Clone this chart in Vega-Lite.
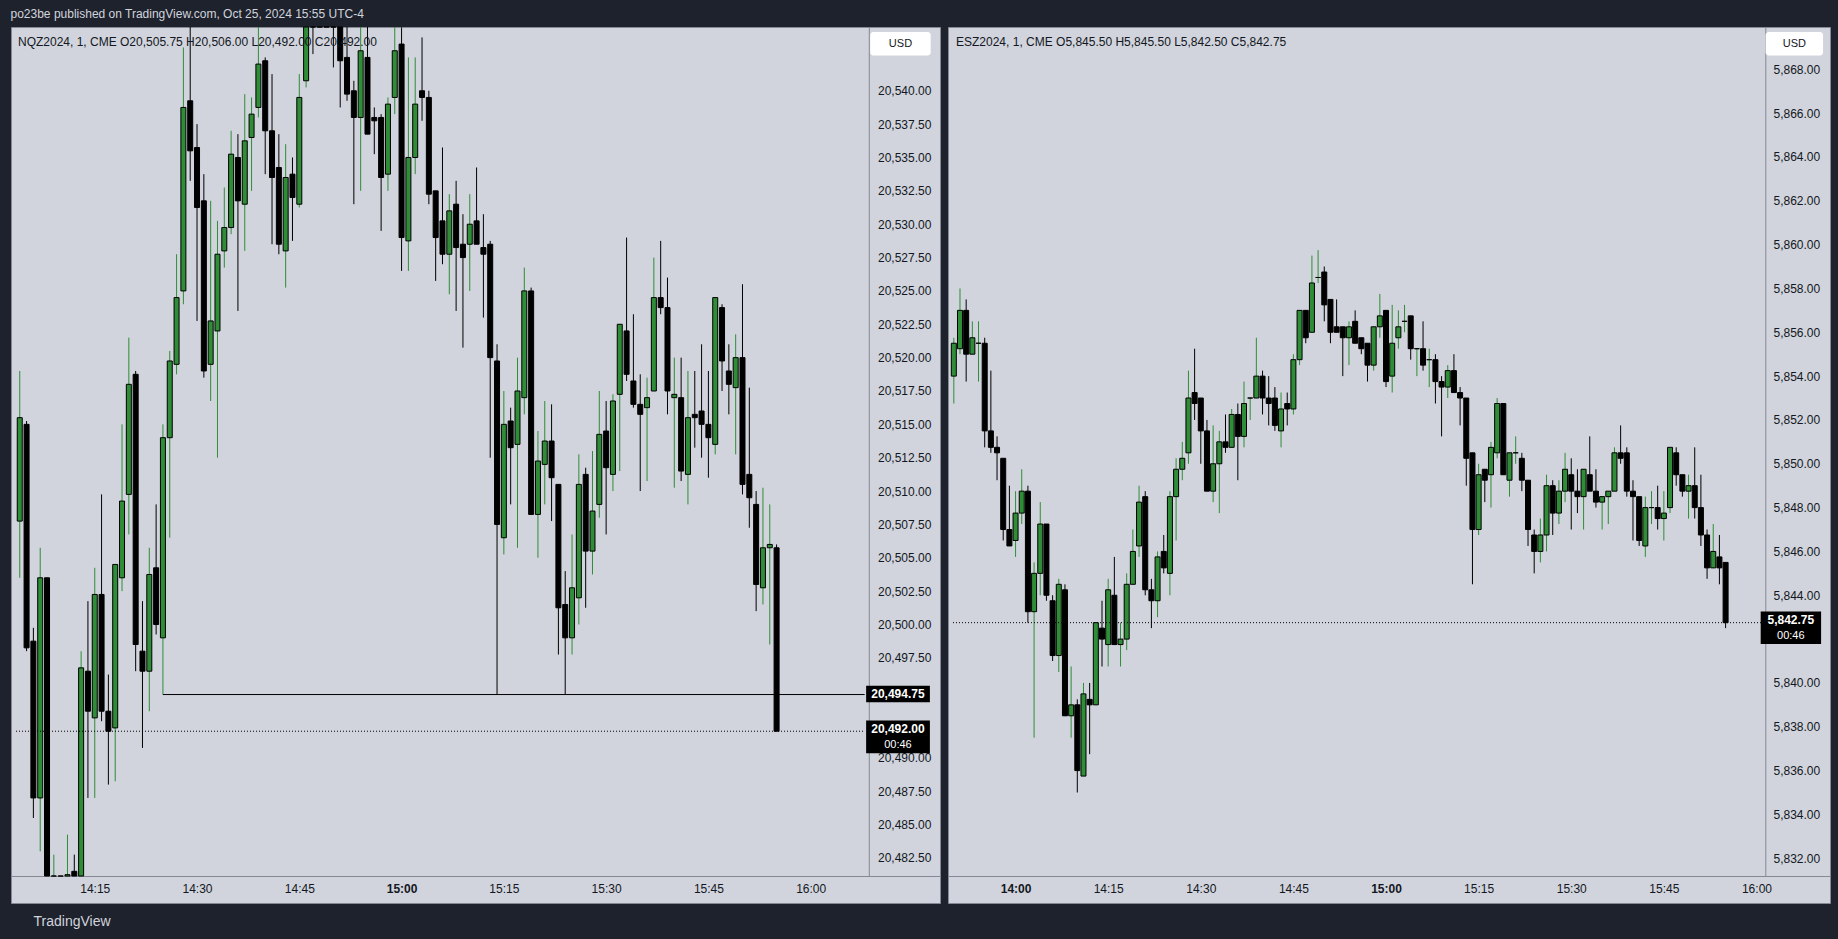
{
"$schema": "https://vega.github.io/schema/vega-lite/v6.json",
"background": "#1e222d",
"padding": {"left": 10, "top": 8, "right": 11, "bottom": 13},
"spacing": 6,
"title": {"text": "po23be published on TradingView.com, Oct 25, 2024 15:55 UTC-4", "anchor": "start", "frame": "bounds", "color": "#d1d4dc", "fontSize": 12, "fontWeight": "normal", "font": "Liberation Sans", "offset": 5},
"config": {
  "font": "Liberation Sans",
  "view": {"stroke": "#868993", "fill": "#d1d4dc"},
  "axis": {"labelFont": "Liberation Sans", "labelFontSize": 12, "labelColor": "#131722", "domainColor": "#868993", "ticks": false, "grid": false, "labelOverlap": false, "labelFlush": false, "labelBound": false}
},
"datasets": {
"nq": [
{"t":"2024-10-25T14:04","o":20507.75,"h":20519,"l":20503.5,"c":20515.5},
{"t":"2024-10-25T14:05","o":20515,"h":20515.25,"l":20498,"c":20498.25},
{"t":"2024-10-25T14:06","o":20498.75,"h":20499.75,"l":20485.5,"c":20487},
{"t":"2024-10-25T14:07","o":20487,"h":20505.75,"l":20483,"c":20503.5},
{"t":"2024-10-25T14:08","o":20503.5,"h":20503.5,"l":20477,"c":20479},
{"t":"2024-10-25T14:09","o":20477.5,"h":20482.75,"l":20475.5,"c":20480},
{"t":"2024-10-25T14:10","o":20480,"h":20480.5,"l":20476,"c":20477},
{"t":"2024-10-25T14:11","o":20480.75,"h":20484.25,"l":20478,"c":20481.25},
{"t":"2024-10-25T14:12","o":20481.5,"h":20482.75,"l":20477,"c":20478},
{"t":"2024-10-25T14:13","o":20478.5,"h":20498,"l":20477.5,"c":20496.75},
{"t":"2024-10-25T14:14","o":20496.5,"h":20501.75,"l":20487,"c":20493.5},
{"t":"2024-10-25T14:15","o":20493,"h":20504.25,"l":20487,"c":20502.25},
{"t":"2024-10-25T14:16","o":20502.25,"h":20509.75,"l":20492.75,"c":20493.5},
{"t":"2024-10-25T14:17","o":20493.5,"h":20496.25,"l":20488,"c":20492},
{"t":"2024-10-25T14:18","o":20492.25,"h":20504.5,"l":20488.25,"c":20504.5},
{"t":"2024-10-25T14:19","o":20503.5,"h":20515,"l":20502.5,"c":20509.25},
{"t":"2024-10-25T14:20","o":20509.75,"h":20521.5,"l":20506.75,"c":20518},
{"t":"2024-10-25T14:21","o":20518.75,"h":20519,"l":20496.5,"c":20498.5},
{"t":"2024-10-25T14:22","o":20498,"h":20501.75,"l":20490.75,"c":20496.5},
{"t":"2024-10-25T14:23","o":20496.5,"h":20505.75,"l":20493.5,"c":20503.75},
{"t":"2024-10-25T14:24","o":20504.25,"h":20509,"l":20499.25,"c":20500},
{"t":"2024-10-25T14:25","o":20499,"h":20515,"l":20494.75,"c":20514},
{"t":"2024-10-25T14:26","o":20514,"h":20520.5,"l":20506.5,"c":20519.75},
{"t":"2024-10-25T14:27","o":20519.5,"h":20527.75,"l":20518.75,"c":20524.5},
{"t":"2024-10-25T14:28","o":20525,"h":20543.25,"l":20524,"c":20538.75},
{"t":"2024-10-25T14:29","o":20539.25,"h":20545.75,"l":20533.25,"c":20535.5},
{"t":"2024-10-25T14:30","o":20535.75,"h":20537.5,"l":20522.75,"c":20531.25},
{"t":"2024-10-25T14:31","o":20531.75,"h":20533.75,"l":20518.5,"c":20519},
{"t":"2024-10-25T14:32","o":20519.5,"h":20531.75,"l":20516.75,"c":20522.75},
{"t":"2024-10-25T14:33","o":20522,"h":20530.25,"l":20512.5,"c":20527.75},
{"t":"2024-10-25T14:34","o":20528,"h":20532.75,"l":20526.75,"c":20529.75},
{"t":"2024-10-25T14:35","o":20529.75,"h":20537,"l":20529.25,"c":20535.25},
{"t":"2024-10-25T14:36","o":20535,"h":20536.75,"l":20523.5,"c":20531.75},
{"t":"2024-10-25T14:37","o":20531.5,"h":20539.75,"l":20528,"c":20536.25},
{"t":"2024-10-25T14:38","o":20536.5,"h":20539.5,"l":20532.5,"c":20538.25},
{"t":"2024-10-25T14:39","o":20538.75,"h":20545.5,"l":20538,"c":20542},
{"t":"2024-10-25T14:40","o":20542.25,"h":20542.5,"l":20533.75,"c":20537},
{"t":"2024-10-25T14:41","o":20537,"h":20541.25,"l":20528.5,"c":20533.5},
{"t":"2024-10-25T14:42","o":20534.25,"h":20536.75,"l":20527.75,"c":20528.5},
{"t":"2024-10-25T14:43","o":20528,"h":20536,"l":20525.25,"c":20533.5},
{"t":"2024-10-25T14:44","o":20533.75,"h":20535,"l":20528.75,"c":20532},
{"t":"2024-10-25T14:45","o":20531.5,"h":20541.25,"l":20531.25,"c":20539.5},
{"t":"2024-10-25T14:46","o":20540.75,"h":20548,"l":20540.25,"c":20546.5},
{"t":"2024-10-25T14:47","o":20548,"h":20549.5,"l":20542.75,"c":20545.5},
{"t":"2024-10-25T14:48","o":20545.5,"h":20549,"l":20544.75,"c":20548},
{"t":"2024-10-25T14:49","o":20548,"h":20549.5,"l":20545,"c":20546},
{"t":"2024-10-25T14:50","o":20546.25,"h":20547,"l":20541.75,"c":20545},
{"t":"2024-10-25T14:51","o":20545,"h":20546,"l":20538.75,"c":20542.25},
{"t":"2024-10-25T14:52","o":20542.5,"h":20545.25,"l":20539.25,"c":20539.75},
{"t":"2024-10-25T14:53","o":20540,"h":20540.75,"l":20531.5,"c":20538},
{"t":"2024-10-25T14:54","o":20538,"h":20545,"l":20532.5,"c":20543},
{"t":"2024-10-25T14:55","o":20542.5,"h":20545,"l":20536.75,"c":20536.75},
{"t":"2024-10-25T14:56","o":20538,"h":20538.75,"l":20535.25,"c":20537.75},
{"t":"2024-10-25T14:57","o":20538,"h":20538.25,"l":20529.5,"c":20533.5},
{"t":"2024-10-25T14:58","o":20533.75,"h":20539.5,"l":20532.5,"c":20539},
{"t":"2024-10-25T14:59","o":20539.5,"h":20545,"l":20538.25,"c":20543},
{"t":"2024-10-25T15:00","o":20543.5,"h":20544.75,"l":20526.5,"c":20529},
{"t":"2024-10-25T15:01","o":20528.75,"h":20542.5,"l":20526.5,"c":20535},
{"t":"2024-10-25T15:02","o":20535,"h":20542.5,"l":20533.75,"c":20539},
{"t":"2024-10-25T15:03","o":20540,"h":20544,"l":20537.75,"c":20539.5},
{"t":"2024-10-25T15:04","o":20539.5,"h":20540,"l":20531.5,"c":20532.25},
{"t":"2024-10-25T15:05","o":20532.5,"h":20532.5,"l":20525.75,"c":20529},
{"t":"2024-10-25T15:06","o":20530.25,"h":20535.75,"l":20527,"c":20527.75},
{"t":"2024-10-25T15:07","o":20527.75,"h":20532.25,"l":20524.75,"c":20531},
{"t":"2024-10-25T15:08","o":20531.5,"h":20533.25,"l":20523.5,"c":20528.25},
{"t":"2024-10-25T15:09","o":20528.5,"h":20530.75,"l":20520.75,"c":20527.5},
{"t":"2024-10-25T15:10","o":20528.5,"h":20532.25,"l":20525,"c":20530},
{"t":"2024-10-25T15:11","o":20530.25,"h":20534.25,"l":20528.5,"c":20528.5},
{"t":"2024-10-25T15:12","o":20528.25,"h":20530.75,"l":20523,"c":20527.75},
{"t":"2024-10-25T15:13","o":20528.5,"h":20528.75,"l":20512.5,"c":20520},
{"t":"2024-10-25T15:14","o":20519.75,"h":20521,"l":20494.75,"c":20507.5},
{"t":"2024-10-25T15:15","o":20506.5,"h":20517.5,"l":20505.25,"c":20515},
{"t":"2024-10-25T15:16","o":20515.25,"h":20516.25,"l":20509,"c":20513.25},
{"t":"2024-10-25T15:17","o":20513.5,"h":20520,"l":20505.75,"c":20517.5},
{"t":"2024-10-25T15:18","o":20517,"h":20526.75,"l":20515.75,"c":20525},
{"t":"2024-10-25T15:19","o":20525,"h":20525.25,"l":20508.25,"c":20508.25},
{"t":"2024-10-25T15:20","o":20508.25,"h":20514.5,"l":20505,"c":20512.25},
{"t":"2024-10-25T15:21","o":20512,"h":20516.75,"l":20509,"c":20513.75},
{"t":"2024-10-25T15:22","o":20513.75,"h":20516.5,"l":20507.75,"c":20511},
{"t":"2024-10-25T15:23","o":20510.5,"h":20510.5,"l":20497.75,"c":20501.25},
{"t":"2024-10-25T15:24","o":20501.5,"h":20504,"l":20494.75,"c":20499},
{"t":"2024-10-25T15:25","o":20499,"h":20506.75,"l":20497.75,"c":20502.75},
{"t":"2024-10-25T15:26","o":20502,"h":20512.75,"l":20500,"c":20510.5},
{"t":"2024-10-25T15:27","o":20511.25,"h":20511.75,"l":20501.25,"c":20505.5},
{"t":"2024-10-25T15:28","o":20505.5,"h":20513,"l":20503.75,"c":20508.5},
{"t":"2024-10-25T15:29","o":20509,"h":20517.5,"l":20508,"c":20514.25},
{"t":"2024-10-25T15:30","o":20514.5,"h":20516.75,"l":20506.75,"c":20511.75},
{"t":"2024-10-25T15:31","o":20511.25,"h":20517.25,"l":20510,"c":20516.75},
{"t":"2024-10-25T15:32","o":20517.25,"h":20522.5,"l":20511.5,"c":20522.5},
{"t":"2024-10-25T15:33","o":20522,"h":20529,"l":20518.25,"c":20518.75},
{"t":"2024-10-25T15:34","o":20518.25,"h":20523.25,"l":20516.25,"c":20516.5},
{"t":"2024-10-25T15:35","o":20516.5,"h":20518.75,"l":20510,"c":20515.75},
{"t":"2024-10-25T15:36","o":20516.25,"h":20518.5,"l":20510.75,"c":20517},
{"t":"2024-10-25T15:37","o":20517.5,"h":20527.5,"l":20517.5,"c":20524.5},
{"t":"2024-10-25T15:38","o":20524.5,"h":20528.75,"l":20523.25,"c":20523.75},
{"t":"2024-10-25T15:39","o":20523.75,"h":20526,"l":20515.75,"c":20517.5},
{"t":"2024-10-25T15:40","o":20517,"h":20520,"l":20510.25,"c":20517.25},
{"t":"2024-10-25T15:41","o":20517,"h":20520,"l":20510.75,"c":20511.5},
{"t":"2024-10-25T15:42","o":20511.25,"h":20519,"l":20509,"c":20515.5},
{"t":"2024-10-25T15:43","o":20515.75,"h":20519,"l":20513.25,"c":20515.5},
{"t":"2024-10-25T15:44","o":20516,"h":20521,"l":20512.5,"c":20515},
{"t":"2024-10-25T15:45","o":20515,"h":20519,"l":20511,"c":20514},
{"t":"2024-10-25T15:46","o":20513.5,"h":20524.5,"l":20512.75,"c":20524.5},
{"t":"2024-10-25T15:47","o":20523.75,"h":20524,"l":20517.5,"c":20519.75},
{"t":"2024-10-25T15:48","o":20519,"h":20521,"l":20515.75,"c":20518},
{"t":"2024-10-25T15:49","o":20517.75,"h":20521.75,"l":20512.75,"c":20520},
{"t":"2024-10-25T15:50","o":20520,"h":20525.5,"l":20509.75,"c":20510.5},
{"t":"2024-10-25T15:51","o":20511.25,"h":20517.75,"l":20507.25,"c":20509.5},
{"t":"2024-10-25T15:52","o":20509,"h":20510,"l":20501,"c":20503},
{"t":"2024-10-25T15:53","o":20502.75,"h":20510.25,"l":20501.5,"c":20505.75},
{"t":"2024-10-25T15:54","o":20505.75,"h":20509,"l":20498.5,"c":20506},
{"t":"2024-10-25T15:55","o":20505.75,"h":20506,"l":20492,"c":20492}
],
"es": [
{"t":"2024-10-25T13:50","o":5854,"h":5855.75,"l":5852.75,"c":5855.5},
{"t":"2024-10-25T13:51","o":5855.25,"h":5858,"l":5855,"c":5857},
{"t":"2024-10-25T13:52","o":5857,"h":5857.5,"l":5853.75,"c":5855},
{"t":"2024-10-25T13:53","o":5855,"h":5856.5,"l":5855,"c":5855.75},
{"t":"2024-10-25T13:54","o":5855.5,"h":5856.5,"l":5853.75,"c":5855.5},
{"t":"2024-10-25T13:55","o":5855.5,"h":5855.75,"l":5850.75,"c":5851.5},
{"t":"2024-10-25T13:56","o":5851.5,"h":5854.25,"l":5850.5,"c":5850.75},
{"t":"2024-10-25T13:57","o":5850.75,"h":5851.25,"l":5849.25,"c":5850.5},
{"t":"2024-10-25T13:58","o":5850.25,"h":5850.25,"l":5846.5,"c":5847},
{"t":"2024-10-25T13:59","o":5847,"h":5849,"l":5846.25,"c":5846.25},
{"t":"2024-10-25T14:00","o":5846.5,"h":5848.75,"l":5845.75,"c":5847.75},
{"t":"2024-10-25T14:01","o":5847.75,"h":5849.75,"l":5847.25,"c":5848.75},
{"t":"2024-10-25T14:02","o":5848.75,"h":5849,"l":5842.75,"c":5843.25},
{"t":"2024-10-25T14:03","o":5843.25,"h":5845.5,"l":5837.5,"c":5845},
{"t":"2024-10-25T14:04","o":5845,"h":5848.25,"l":5844,"c":5847.25},
{"t":"2024-10-25T14:05","o":5847.25,"h":5847.25,"l":5843.75,"c":5844},
{"t":"2024-10-25T14:06","o":5843.75,"h":5844,"l":5841,"c":5841.25},
{"t":"2024-10-25T14:07","o":5841.25,"h":5844.75,"l":5840.5,"c":5844.5},
{"t":"2024-10-25T14:08","o":5844.25,"h":5844.5,"l":5838.5,"c":5838.5},
{"t":"2024-10-25T14:09","o":5838.5,"h":5840.75,"l":5837.5,"c":5839},
{"t":"2024-10-25T14:10","o":5839,"h":5839.25,"l":5835,"c":5836},
{"t":"2024-10-25T14:11","o":5835.75,"h":5840,"l":5835.75,"c":5839.5},
{"t":"2024-10-25T14:12","o":5839.25,"h":5840,"l":5836.75,"c":5839},
{"t":"2024-10-25T14:13","o":5839,"h":5842.75,"l":5839,"c":5842.75},
{"t":"2024-10-25T14:14","o":5842.5,"h":5843.75,"l":5840.75,"c":5842},
{"t":"2024-10-25T14:15","o":5841.75,"h":5844.75,"l":5840.75,"c":5844.25},
{"t":"2024-10-25T14:16","o":5844,"h":5845.75,"l":5841.75,"c":5841.75},
{"t":"2024-10-25T14:17","o":5841.75,"h":5842.75,"l":5840.75,"c":5842},
{"t":"2024-10-25T14:18","o":5842,"h":5845,"l":5841.5,"c":5844.5},
{"t":"2024-10-25T14:19","o":5844.5,"h":5847,"l":5844.5,"c":5846},
{"t":"2024-10-25T14:20","o":5846.25,"h":5849,"l":5845.75,"c":5848.25},
{"t":"2024-10-25T14:21","o":5848.5,"h":5848.75,"l":5844,"c":5844.25},
{"t":"2024-10-25T14:22","o":5844.25,"h":5844.75,"l":5842.5,"c":5843.75},
{"t":"2024-10-25T14:23","o":5843.75,"h":5846,"l":5843,"c":5845.75},
{"t":"2024-10-25T14:24","o":5846,"h":5846.75,"l":5845,"c":5845.25},
{"t":"2024-10-25T14:25","o":5845,"h":5848.75,"l":5844,"c":5848.5},
{"t":"2024-10-25T14:26","o":5848.5,"h":5850.25,"l":5846.5,"c":5849.75},
{"t":"2024-10-25T14:27","o":5849.75,"h":5851,"l":5849.25,"c":5850.25},
{"t":"2024-10-25T14:28","o":5850.5,"h":5854.25,"l":5850,"c":5853},
{"t":"2024-10-25T14:29","o":5853.25,"h":5855.25,"l":5852,"c":5852.75},
{"t":"2024-10-25T14:30","o":5853,"h":5853,"l":5850,"c":5851.5},
{"t":"2024-10-25T14:31","o":5851.5,"h":5852,"l":5848.75,"c":5848.75},
{"t":"2024-10-25T14:32","o":5848.75,"h":5851.75,"l":5848.25,"c":5850},
{"t":"2024-10-25T14:33","o":5850,"h":5851.5,"l":5847.75,"c":5851},
{"t":"2024-10-25T14:34","o":5851,"h":5852.25,"l":5850.5,"c":5850.75},
{"t":"2024-10-25T14:35","o":5850.75,"h":5852.5,"l":5850.75,"c":5852.25},
{"t":"2024-10-25T14:36","o":5852.25,"h":5852.75,"l":5849.25,"c":5851.25},
{"t":"2024-10-25T14:37","o":5851.25,"h":5853.75,"l":5850.75,"c":5852.75},
{"t":"2024-10-25T14:38","o":5853,"h":5853,"l":5852,"c":5853},
{"t":"2024-10-25T14:39","o":5853,"h":5855.75,"l":5853,"c":5854},
{"t":"2024-10-25T14:40","o":5854,"h":5854.25,"l":5852.25,"c":5853},
{"t":"2024-10-25T14:41","o":5853,"h":5854,"l":5851.75,"c":5852.75},
{"t":"2024-10-25T14:42","o":5853,"h":5853.5,"l":5851.5,"c":5851.75},
{"t":"2024-10-25T14:43","o":5851.5,"h":5853.25,"l":5850.75,"c":5852.5},
{"t":"2024-10-25T14:44","o":5852.75,"h":5853.25,"l":5851.75,"c":5852.5},
{"t":"2024-10-25T14:45","o":5852.5,"h":5855,"l":5852.25,"c":5854.75},
{"t":"2024-10-25T14:46","o":5854.75,"h":5857,"l":5854.5,"c":5857},
{"t":"2024-10-25T14:47","o":5857,"h":5857,"l":5855.5,"c":5855.75},
{"t":"2024-10-25T14:48","o":5856,"h":5859.5,"l":5856,"c":5858.25},
{"t":"2024-10-25T14:49","o":5858.5,"h":5859.75,"l":5858.25,"c":5858.5},
{"t":"2024-10-25T14:50","o":5858.75,"h":5859,"l":5856.5,"c":5857.25},
{"t":"2024-10-25T14:51","o":5857.5,"h":5857.5,"l":5855.5,"c":5856},
{"t":"2024-10-25T14:52","o":5856.25,"h":5857.5,"l":5856,"c":5856},
{"t":"2024-10-25T14:53","o":5856.25,"h":5856.25,"l":5854,"c":5855.75},
{"t":"2024-10-25T14:54","o":5855.75,"h":5856.5,"l":5854.5,"c":5856.25},
{"t":"2024-10-25T14:55","o":5856.5,"h":5857,"l":5855.5,"c":5855.5},
{"t":"2024-10-25T14:56","o":5855.75,"h":5855.75,"l":5855,"c":5855.25},
{"t":"2024-10-25T14:57","o":5855.5,"h":5855.5,"l":5853.75,"c":5854.5},
{"t":"2024-10-25T14:58","o":5854.5,"h":5856.25,"l":5854.25,"c":5856.25},
{"t":"2024-10-25T14:59","o":5856.25,"h":5857.75,"l":5855.75,"c":5856.75},
{"t":"2024-10-25T15:00","o":5857,"h":5857,"l":5853.5,"c":5853.75},
{"t":"2024-10-25T15:01","o":5854,"h":5857.25,"l":5853.25,"c":5855.5},
{"t":"2024-10-25T15:02","o":5855.75,"h":5857,"l":5855.25,"c":5856.25},
{"t":"2024-10-25T15:03","o":5856.5,"h":5857.25,"l":5856,"c":5856.5},
{"t":"2024-10-25T15:04","o":5856.75,"h":5856.75,"l":5854.75,"c":5855.25},
{"t":"2024-10-25T15:05","o":5855.25,"h":5855.25,"l":5854,"c":5855.25},
{"t":"2024-10-25T15:06","o":5855.25,"h":5856.5,"l":5854.25,"c":5854.5},
{"t":"2024-10-25T15:07","o":5854.75,"h":5855.25,"l":5853.5,"c":5854.75},
{"t":"2024-10-25T15:08","o":5854.75,"h":5855,"l":5852.75,"c":5853.75},
{"t":"2024-10-25T15:09","o":5853.75,"h":5854,"l":5851.25,"c":5853.5},
{"t":"2024-10-25T15:10","o":5853.5,"h":5854.5,"l":5853,"c":5854.25},
{"t":"2024-10-25T15:11","o":5854.25,"h":5855,"l":5853.25,"c":5853.25},
{"t":"2024-10-25T15:12","o":5853.25,"h":5853.5,"l":5851.75,"c":5853},
{"t":"2024-10-25T15:13","o":5853,"h":5853,"l":5849,"c":5850.25},
{"t":"2024-10-25T15:14","o":5850.5,"h":5850.5,"l":5844.5,"c":5847},
{"t":"2024-10-25T15:15","o":5847,"h":5850,"l":5846.75,"c":5849.5},
{"t":"2024-10-25T15:16","o":5849.75,"h":5849.75,"l":5848.25,"c":5849.25},
{"t":"2024-10-25T15:17","o":5849.5,"h":5851,"l":5848,"c":5850.75},
{"t":"2024-10-25T15:18","o":5850.5,"h":5853,"l":5850.25,"c":5852.75},
{"t":"2024-10-25T15:19","o":5852.75,"h":5852.75,"l":5849.5,"c":5849.5},
{"t":"2024-10-25T15:20","o":5849.25,"h":5850.5,"l":5848.5,"c":5850.5},
{"t":"2024-10-25T15:21","o":5850.5,"h":5851.25,"l":5850,"c":5850.5},
{"t":"2024-10-25T15:22","o":5850.25,"h":5850.5,"l":5848.75,"c":5849.25},
{"t":"2024-10-25T15:23","o":5849.25,"h":5849.25,"l":5846.25,"c":5847},
{"t":"2024-10-25T15:24","o":5846.75,"h":5847,"l":5845,"c":5846},
{"t":"2024-10-25T15:25","o":5846,"h":5847.5,"l":5845.5,"c":5846.75},
{"t":"2024-10-25T15:26","o":5846.75,"h":5849.5,"l":5846,"c":5849},
{"t":"2024-10-25T15:27","o":5849,"h":5849.25,"l":5846.75,"c":5847.75},
{"t":"2024-10-25T15:28","o":5847.75,"h":5849.25,"l":5847.25,"c":5848.75},
{"t":"2024-10-25T15:29","o":5848.75,"h":5850.5,"l":5848.25,"c":5849.75},
{"t":"2024-10-25T15:30","o":5849.5,"h":5850.25,"l":5847,"c":5848.75},
{"t":"2024-10-25T15:31","o":5848.75,"h":5849.75,"l":5847.75,"c":5848.5},
{"t":"2024-10-25T15:32","o":5848.5,"h":5849.75,"l":5847,"c":5849.75},
{"t":"2024-10-25T15:33","o":5849.5,"h":5851.25,"l":5848.75,"c":5848.75},
{"t":"2024-10-25T15:34","o":5848.75,"h":5849.75,"l":5848,"c":5848.25},
{"t":"2024-10-25T15:35","o":5848.25,"h":5848.5,"l":5847,"c":5848.5},
{"t":"2024-10-25T15:36","o":5848.5,"h":5848.75,"l":5847.25,"c":5848.75},
{"t":"2024-10-25T15:37","o":5848.75,"h":5850.75,"l":5848.75,"c":5850.5},
{"t":"2024-10-25T15:38","o":5850.5,"h":5851.75,"l":5850,"c":5850.25},
{"t":"2024-10-25T15:39","o":5850.5,"h":5850.75,"l":5848.5,"c":5848.75},
{"t":"2024-10-25T15:40","o":5848.75,"h":5849.25,"l":5846.5,"c":5848.5},
{"t":"2024-10-25T15:41","o":5848.5,"h":5848.5,"l":5846.25,"c":5846.5},
{"t":"2024-10-25T15:42","o":5846.25,"h":5848.5,"l":5845.75,"c":5848},
{"t":"2024-10-25T15:43","o":5848,"h":5848.75,"l":5847.25,"c":5848},
{"t":"2024-10-25T15:44","o":5848,"h":5849,"l":5847,"c":5847.5},
{"t":"2024-10-25T15:45","o":5847.5,"h":5848.75,"l":5846.5,"c":5847.75},
{"t":"2024-10-25T15:46","o":5848,"h":5850.75,"l":5847.75,"c":5850.75},
{"t":"2024-10-25T15:47","o":5850.5,"h":5850.75,"l":5849,"c":5849.5},
{"t":"2024-10-25T15:48","o":5849.5,"h":5849.5,"l":5848.5,"c":5848.75},
{"t":"2024-10-25T15:49","o":5848.75,"h":5849.5,"l":5847.5,"c":5849},
{"t":"2024-10-25T15:50","o":5849,"h":5850.75,"l":5847.5,"c":5848},
{"t":"2024-10-25T15:51","o":5848,"h":5849.5,"l":5846.25,"c":5846.75},
{"t":"2024-10-25T15:52","o":5846.75,"h":5847,"l":5844.75,"c":5845.25},
{"t":"2024-10-25T15:53","o":5845.25,"h":5847.25,"l":5845.25,"c":5846},
{"t":"2024-10-25T15:54","o":5845.75,"h":5846.75,"l":5844.5,"c":5845.25},
{"t":"2024-10-25T15:55","o":5845.5,"h":5845.5,"l":5842.5,"c":5842.75}
]
},
"hconcat": [
{
 "width": 929, "height": 876,
 "title": {"text": "NQZ2024, 1, CME  O20,505.75  H20,506.00  L20,492.00  C20,492.00", "anchor": "start", "offset": -22, "dx": 7, "fontSize": 12, "fontWeight": "normal", "color": "#131722", "font": "Liberation Sans"},
 "layer": [
  {"data": {"name": "nq"},
   "mark": {"type": "rule", "strokeWidth": 1},
   "encoding": {
     "x": {"field": "t", "type": "temporal",
       "scale": {"domain": [{"year":2024,"month":10,"date":25,"hours":14,"minutes":3,"seconds":27},{"year":2024,"month":10,"date":25,"hours":16,"minutes":18,"seconds":14}], "nice": false},
       "axis": {"orient": "bottom", "offset": -27, "format": "%H:%M", "labelPadding": 7, "labelOverlap": false, "tickCount": 40,
         "values": [{"year":2024,"month":10,"date":25,"hours":14,"minutes":15},{"year":2024,"month":10,"date":25,"hours":14,"minutes":30},{"year":2024,"month":10,"date":25,"hours":14,"minutes":45},{"year":2024,"month":10,"date":25,"hours":15,"minutes":0},{"year":2024,"month":10,"date":25,"hours":15,"minutes":15},{"year":2024,"month":10,"date":25,"hours":15,"minutes":30},{"year":2024,"month":10,"date":25,"hours":15,"minutes":45},{"year":2024,"month":10,"date":25,"hours":16,"minutes":0}],
         "labelFontWeight": {"condition": {"test": "hours(datum.value) < 16 && minutes(datum.value) === 0", "value": "bold"}, "value": "normal"},
         "title": "TradingView", "titleX": 22, "titleY": 45, "titleAlign": "left", "titleBaseline": "middle", "titleColor": "#d1d4dc", "titleFontSize": 14, "titleFontWeight": "normal", "titleFont": "Liberation Sans"}},
     "y": {"field": "l", "type": "quantitative",
       "scale": {"domain": [20481.15, 20544.78], "range": [849, 0], "clamp": true, "zero": false, "nice": false},
       "axis": {"orient": "right", "offset": -71.2, "labelPadding": 8.7, "format": ",.2f", "title": null, "labelOverlap": false, "tickCount": 60,
         "values": [20482.5,20485,20487.5,20490,20497.5,20500,20502.5,20505,20507.5,20510,20512.5,20515,20517.5,20520,20522.5,20525,20527.5,20530,20532.5,20535,20537.5,20540]}},
     "y2": {"field": "h"},
     "color": {"condition": {"test": "datum.c >= datum.o", "value": "#2e8d36"}, "value": "#000000"}
   }},
  {"data": {"name": "nq"},
   "mark": {"type": "bar", "width": 5, "stroke": "#000000", "strokeWidth": 1},
   "encoding": {
     "x": {"field": "t", "type": "temporal"},
     "y": {"field": "o", "type": "quantitative"},
     "y2": {"field": "c"},
     "fill": {"condition": {"test": "datum.c >= datum.o", "value": "#2e8d36"}, "value": "#000000"}
   }},
  {"data": {"values": [{}]},
   "mark": {"type": "rule", "color": "#000000", "strokeWidth": 1},
   "encoding": {
     "x": {"datum": {"year":2024,"month":10,"date":25,"hours":14,"minutes":25}, "type": "temporal"},
     "x2": {"datum": {"year":2024,"month":10,"date":25,"hours":16,"minutes":7,"seconds":55}},
     "y": {"datum": 20494.75, "type": "quantitative"}}},
  {"data": {"values": [{}]},
   "mark": {"type": "rule", "color": "#000000", "strokeWidth": 1, "strokeDash": [1, 2]},
   "encoding": {
     "x": {"datum": {"year":2024,"month":10,"date":25,"hours":14,"minutes":3,"seconds":27}, "type": "temporal"},
     "x2": {"datum": {"year":2024,"month":10,"date":25,"hours":16,"minutes":7,"seconds":55}},
     "y": {"datum": 20492, "type": "quantitative"}}},
  {"data": {"values": [{}]},
   "mark": {"type": "rect", "color": "#000000"},
   "encoding": {
     "x": {"datum": {"year":2024,"month":10,"date":25,"hours":16,"minutes":8,"seconds":8}, "type": "temporal"},
     "x2": {"datum": {"year":2024,"month":10,"date":25,"hours":16,"minutes":17,"seconds":29}},
     "y": {"datum": 20495.41, "type": "quantitative"},
     "y2": {"datum": 20494.18}}},
  {"data": {"values": [{}]},
   "mark": {"type": "rect", "color": "#000000"},
   "encoding": {
     "x": {"datum": {"year":2024,"month":10,"date":25,"hours":16,"minutes":8,"seconds":8}, "type": "temporal"},
     "x2": {"datum": {"year":2024,"month":10,"date":25,"hours":16,"minutes":17,"seconds":29}},
     "y": {"datum": 20492.8, "type": "quantitative"},
     "y2": {"datum": 20490.35}}},
  {"data": {"values": [{}]},
   "mark": {"type": "rect", "color": "#ffffff", "cornerRadius": 3},
   "encoding": {
     "x": {"datum": {"year":2024,"month":10,"date":25,"hours":16,"minutes":8,"seconds":44}, "type": "temporal"},
     "x2": {"datum": {"year":2024,"month":10,"date":25,"hours":16,"minutes":17,"seconds":36}},
     "y": {"datum": 20544.4, "type": "quantitative"},
     "y2": {"datum": 20542.65}}},
  {"data": {"values": [{}]},
   "mark": {"type": "text", "color": "#ffffff", "fontWeight": "bold", "fontSize": 12, "font": "Liberation Sans", "baseline": "middle"},
   "encoding": {
     "x": {"datum": {"year":2024,"month":10,"date":25,"hours":16,"minutes":12,"seconds":48}, "type": "temporal"},
     "y": {"datum": 20494.79, "type": "quantitative"},
     "text": {"value": "20,494.75"}}},
  {"data": {"values": [{}]},
   "mark": {"type": "text", "color": "#ffffff", "fontWeight": "bold", "fontSize": 12, "font": "Liberation Sans", "baseline": "middle"},
   "encoding": {
     "x": {"datum": {"year":2024,"month":10,"date":25,"hours":16,"minutes":12,"seconds":48}, "type": "temporal"},
     "y": {"datum": 20492.2, "type": "quantitative"},
     "text": {"value": "20,492.00"}}},
  {"data": {"values": [{}]},
   "mark": {"type": "text", "color": "#ffffff", "fontSize": 11, "font": "Liberation Sans", "baseline": "middle"},
   "encoding": {
     "x": {"datum": {"year":2024,"month":10,"date":25,"hours":16,"minutes":12,"seconds":48}, "type": "temporal"},
     "y": {"datum": 20490.95, "type": "quantitative"},
     "text": {"value": "00:46"}}},
  {"data": {"values": [{}]},
   "mark": {"type": "text", "color": "#131722", "fontSize": 11, "font": "Liberation Sans", "baseline": "middle"},
   "encoding": {
     "x": {"datum": {"year":2024,"month":10,"date":25,"hours":16,"minutes":13,"seconds":10}, "type": "temporal"},
     "y": {"datum": 20543.52, "type": "quantitative"},
     "text": {"value": "USD"}}}
 ]
},
{
 "width": 882, "height": 876,
 "title": {"text": "ESZ2024, 1, CME  O5,845.50  H5,845.50  L5,842.50  C5,842.75", "anchor": "start", "offset": -22, "dx": 8, "fontSize": 12, "fontWeight": "normal", "color": "#131722", "font": "Liberation Sans"},
 "layer": [
  {"data": {"name": "es"},
   "mark": {"type": "rule", "strokeWidth": 1},
   "encoding": {
     "x": {"field": "t", "type": "temporal",
       "scale": {"domain": [{"year":2024,"month":10,"date":25,"hours":13,"minutes":49,"seconds":52},{"year":2024,"month":10,"date":25,"hours":16,"minutes":11,"seconds":6}], "nice": false},
       "axis": {"orient": "bottom", "offset": -27, "format": "%H:%M", "labelPadding": 7, "title": null, "labelOverlap": false, "tickCount": 40,
         "values": [{"year":2024,"month":10,"date":25,"hours":14,"minutes":0},{"year":2024,"month":10,"date":25,"hours":14,"minutes":15},{"year":2024,"month":10,"date":25,"hours":14,"minutes":30},{"year":2024,"month":10,"date":25,"hours":14,"minutes":45},{"year":2024,"month":10,"date":25,"hours":15,"minutes":0},{"year":2024,"month":10,"date":25,"hours":15,"minutes":15},{"year":2024,"month":10,"date":25,"hours":15,"minutes":30},{"year":2024,"month":10,"date":25,"hours":15,"minutes":45},{"year":2024,"month":10,"date":25,"hours":16,"minutes":0}],
         "labelFontWeight": {"condition": {"test": "hours(datum.value) < 16 && minutes(datum.value) === 0", "value": "bold"}, "value": "normal"}}},
     "y": {"field": "l", "type": "quantitative",
       "scale": {"domain": [5831.19, 5869.93], "range": [849, 0], "clamp": true, "zero": false, "nice": false},
       "axis": {"orient": "right", "offset": -64.7, "labelPadding": 7.7, "format": ",.2f", "title": null, "labelOverlap": false, "tickCount": 60,
         "values": [5832,5834,5836,5838,5840,5844,5846,5848,5850,5852,5854,5856,5858,5860,5862,5864,5866,5868]}},
     "y2": {"field": "h"},
     "color": {"condition": {"test": "datum.c >= datum.o", "value": "#2e8d36"}, "value": "#000000"}
   }},
  {"data": {"name": "es"},
   "mark": {"type": "bar", "width": 5, "stroke": "#000000", "strokeWidth": 1},
   "encoding": {
     "x": {"field": "t", "type": "temporal"},
     "y": {"field": "o", "type": "quantitative"},
     "y2": {"field": "c"},
     "fill": {"condition": {"test": "datum.c >= datum.o", "value": "#2e8d36"}, "value": "#000000"}
   }},
  {"data": {"values": [{}]},
   "mark": {"type": "rule", "color": "#000000", "strokeWidth": 1, "strokeDash": [1, 2]},
   "encoding": {
     "x": {"datum": {"year":2024,"month":10,"date":25,"hours":13,"minutes":49,"seconds":52}, "type": "temporal"},
     "x2": {"datum": {"year":2024,"month":10,"date":25,"hours":16,"minutes":0,"seconds":44}},
     "y": {"datum": 5842.75, "type": "quantitative"}}},
  {"data": {"values": [{}]},
   "mark": {"type": "rect", "color": "#000000"},
   "encoding": {
     "x": {"datum": {"year":2024,"month":10,"date":25,"hours":16,"minutes":0,"seconds":41}, "type": "temporal"},
     "x2": {"datum": {"year":2024,"month":10,"date":25,"hours":16,"minutes":10,"seconds":28}},
     "y": {"datum": 5843.26, "type": "quantitative"},
     "y2": {"datum": 5841.78}}},
  {"data": {"values": [{}]},
   "mark": {"type": "rect", "color": "#ffffff", "cornerRadius": 3},
   "encoding": {
     "x": {"datum": {"year":2024,"month":10,"date":25,"hours":16,"minutes":1,"seconds":29}, "type": "temporal"},
     "x2": {"datum": {"year":2024,"month":10,"date":25,"hours":16,"minutes":10,"seconds":47}},
     "y": {"datum": 5869.7, "type": "quantitative"},
     "y2": {"datum": 5868.63}}},
  {"data": {"values": [{}]},
   "mark": {"type": "text", "color": "#ffffff", "fontWeight": "bold", "fontSize": 12, "font": "Liberation Sans", "baseline": "middle"},
   "encoding": {
     "x": {"datum": {"year":2024,"month":10,"date":25,"hours":16,"minutes":5,"seconds":34}, "type": "temporal"},
     "y": {"datum": 5842.87, "type": "quantitative"},
     "text": {"value": "5,842.75"}}},
  {"data": {"values": [{}]},
   "mark": {"type": "text", "color": "#ffffff", "fontSize": 11, "font": "Liberation Sans", "baseline": "middle"},
   "encoding": {
     "x": {"datum": {"year":2024,"month":10,"date":25,"hours":16,"minutes":5,"seconds":34}, "type": "temporal"},
     "y": {"datum": 5842.14, "type": "quantitative"},
     "text": {"value": "00:46"}}},
  {"data": {"values": [{}]},
   "mark": {"type": "text", "color": "#131722", "fontSize": 11, "font": "Liberation Sans", "baseline": "middle"},
   "encoding": {
     "x": {"datum": {"year":2024,"month":10,"date":25,"hours":16,"minutes":6,"seconds":8}, "type": "temporal"},
     "y": {"datum": 5869.16, "type": "quantitative"},
     "text": {"value": "USD"}}}
 ]
}
]
}
